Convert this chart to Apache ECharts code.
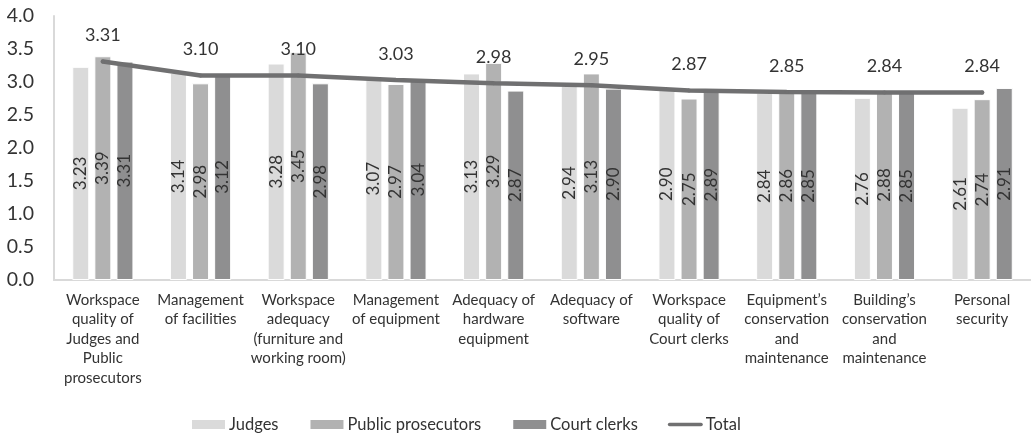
<!DOCTYPE html>
<html>
<head>
<meta charset="utf-8">
<script src="https://cdn.jsdelivr.net/npm/echarts@6/dist/echarts.min.js"></script>
<style>html,body{margin:0;padding:0;background:#fff}#c{width:1031px;height:436px}</style>
</head>
<body>
<div id="c"></div>
<script>
const categories = [
  "Workspace\nquality of\nJudges and\nPublic\nprosecutors",
  "Management\nof facilities",
  "Workspace\nadequacy\n(furniture and\nworking room)",
  "Management\nof equipment",
  "Adequacy of\nhardware\nequipment",
  "Adequacy of\nsoftware",
  "Workspace\nquality of\nCourt clerks",
  "Equipment\u2019s\nconservation\nand\nmaintenance",
  "Building\u2019s\nconservation\nand\nmaintenance",
  "Personal\nsecurity"
];
const judges = [3.23, 3.14, 3.28, 3.07, 3.13, 2.94, 2.90, 2.84, 2.76, 2.61];
const publicProsecutors = [3.39, 2.98, 3.45, 2.97, 3.29, 3.13, 2.75, 2.86, 2.88, 2.74];
const courtClerks = [3.31, 3.12, 2.98, 3.04, 2.87, 2.90, 2.89, 2.85, 2.85, 2.91];
const total = [3.31, 3.10, 3.10, 3.03, 2.98, 2.95, 2.87, 2.85, 2.84, 2.84];

const FONT = 'Lato, "Liberation Sans", sans-serif';
const barLabel = {
  show: true, position: 'inside', rotate: 90,
  fontSize: 17, color: '#333', fontFamily: FONT,
  formatter: p => p.value.toFixed(2)
};
function bar(name, data, color) {
  return {
    name, type: 'bar', data, barWidth: 17, barGap: '30%',
    itemStyle: { color, borderColor: '#fff', borderWidth: 1 },
    label: barLabel, z: 2
  };
}
const LINE_COLOR = '#707071';
const chart = echarts.init(document.getElementById('c'), null, { renderer: 'canvas' });
chart.setOption({
  animation: false,
  textStyle: { fontFamily: FONT },
  grid: { left: 54, right: 0, top: 16, bottom: 156, containLabel: false },
  legend: {
    top: 411, left: 185,
    itemWidth: 35, itemHeight: 11, itemGap: 30,
    textStyle: { fontSize: 16.5, color: '#333', fontFamily: FONT, padding: [0, 0, 0, -2] },
    data: [
      { name: 'Judges', icon: 'rect' },
      { name: 'Public prosecutors', icon: 'rect' },
      { name: 'Court clerks', icon: 'rect' },
      { name: 'Total', icon: 'path://M2,0 L38,0 A2,2 0 0 1 38,4 L2,4 A2,2 0 0 1 2,0 Z', itemStyle: { color: LINE_COLOR, opacity: 1 } }
    ]
  },
  xAxis: {
    type: 'category', data: categories,
    axisLine: { show: true, lineStyle: { color: '#d9d9d9', width: 2 } },
    axisTick: { show: false },
    axisLabel: { interval: 0, fontSize: 15, lineHeight: 19.5, color: '#333', margin: 10, fontFamily: FONT }
  },
  yAxis: {
    type: 'value', min: 0, max: 4, interval: 0.5,
    axisLine: { show: true, lineStyle: { color: '#d9d9d9', width: 2 } },
    axisTick: { show: false },
    splitLine: { show: false },
    axisLabel: { fontSize: 19.5, color: '#333', margin: 20, fontFamily: FONT, formatter: v => v.toFixed(1) }
  },
  series: [
    bar('Judges', judges, '#dadada'),
    bar('Public prosecutors', publicProsecutors, '#b2b2b2'),
    bar('Court clerks', courtClerks, '#8f8f90'),
    {
      name: 'Total', type: 'line', data: total,
      symbol: 'circle', symbolSize: 4, showSymbol: true, z: 5,
      lineStyle: { color: LINE_COLOR, width: 4.5, cap: 'round' },
      itemStyle: { color: LINE_COLOR },
      label: { show: true, position: 'top', distance: 15, fontSize: 18, color: '#333', fontFamily: FONT, formatter: p => p.value.toFixed(2) },
      labelLayout: { hideOverlap: false }
    }
  ]
});
</script>
</body>
</html>
